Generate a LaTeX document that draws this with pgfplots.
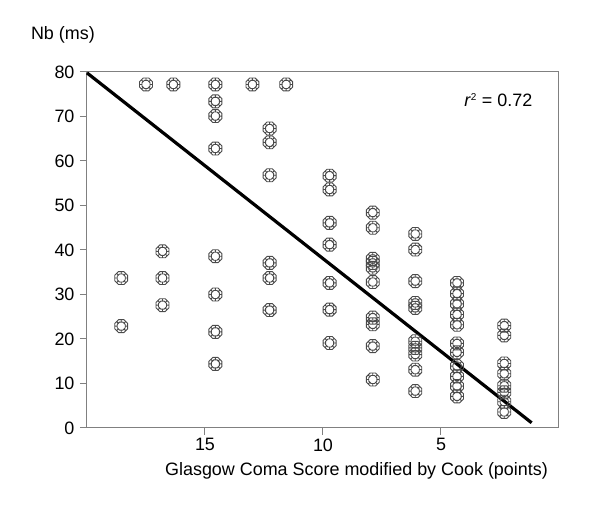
\documentclass[border=0pt]{standalone}
\usepackage{fontspec}
\setmainfont{Liberation Sans}
\usepackage{pgfplots}
\pgfplotsset{compat=1.18}

% double octagon ring, as in the original scatter
\pgfdeclareplotmark{ring}{%
  \pgfpathmoveto{\pgfpointpolar{22.5}{\pgfplotmarksize}}%
  \pgfpathlineto{\pgfpointpolar{67.5}{\pgfplotmarksize}}%
  \pgfpathlineto{\pgfpointpolar{112.5}{\pgfplotmarksize}}%
  \pgfpathlineto{\pgfpointpolar{157.5}{\pgfplotmarksize}}%
  \pgfpathlineto{\pgfpointpolar{202.5}{\pgfplotmarksize}}%
  \pgfpathlineto{\pgfpointpolar{247.5}{\pgfplotmarksize}}%
  \pgfpathlineto{\pgfpointpolar{292.5}{\pgfplotmarksize}}%
  \pgfpathlineto{\pgfpointpolar{337.5}{\pgfplotmarksize}}%
  \pgfpathclose
  \pgfpathmoveto{\pgfpointpolar{22.5}{0.62\pgfplotmarksize}}%
  \pgfpathlineto{\pgfpointpolar{67.5}{0.62\pgfplotmarksize}}%
  \pgfpathlineto{\pgfpointpolar{112.5}{0.62\pgfplotmarksize}}%
  \pgfpathlineto{\pgfpointpolar{157.5}{0.62\pgfplotmarksize}}%
  \pgfpathlineto{\pgfpointpolar{202.5}{0.62\pgfplotmarksize}}%
  \pgfpathlineto{\pgfpointpolar{247.5}{0.62\pgfplotmarksize}}%
  \pgfpathlineto{\pgfpointpolar{292.5}{0.62\pgfplotmarksize}}%
  \pgfpathlineto{\pgfpointpolar{337.5}{0.62\pgfplotmarksize}}%
  \pgfpathclose
  \pgfpathmoveto{\pgfpointpolar{0}{0.62\pgfplotmarksize}}\pgfpathlineto{\pgfpointpolar{0}{0.9\pgfplotmarksize}}%
  \pgfpathmoveto{\pgfpointpolar{45}{0.62\pgfplotmarksize}}\pgfpathlineto{\pgfpointpolar{45}{0.9\pgfplotmarksize}}%
  \pgfpathmoveto{\pgfpointpolar{90}{0.62\pgfplotmarksize}}\pgfpathlineto{\pgfpointpolar{90}{0.9\pgfplotmarksize}}%
  \pgfpathmoveto{\pgfpointpolar{135}{0.62\pgfplotmarksize}}\pgfpathlineto{\pgfpointpolar{135}{0.9\pgfplotmarksize}}%
  \pgfpathmoveto{\pgfpointpolar{180}{0.62\pgfplotmarksize}}\pgfpathlineto{\pgfpointpolar{180}{0.9\pgfplotmarksize}}%
  \pgfpathmoveto{\pgfpointpolar{225}{0.62\pgfplotmarksize}}\pgfpathlineto{\pgfpointpolar{225}{0.9\pgfplotmarksize}}%
  \pgfpathmoveto{\pgfpointpolar{270}{0.62\pgfplotmarksize}}\pgfpathlineto{\pgfpointpolar{270}{0.9\pgfplotmarksize}}%
  \pgfpathmoveto{\pgfpointpolar{315}{0.62\pgfplotmarksize}}\pgfpathlineto{\pgfpointpolar{315}{0.9\pgfplotmarksize}}%
  \pgfusepathqstroke
}

\pgfplotstableread{
x     y
18.55 33.7
18.55 22.9
17.50 77.2
16.80 39.7
16.80 33.7
16.80 27.6
16.34 77.2
14.56 77.2
14.56 73.4
14.56 70.1
14.56 62.8
14.56 38.6
14.56 30.0
14.56 21.6
14.56 14.4
12.99 77.2
12.26 67.3
12.26 64.2
12.26 56.8
12.26 37.1
12.26 33.7
12.26 26.5
11.56 77.2
9.72  56.7
9.72  53.6
9.72  46.1
9.72  41.2
9.72  32.6
9.72  26.6
9.72  19.1
7.89  48.4
7.89  45.0
7.89  38.0
7.89  37.1
7.89  36.0
7.89  32.8
7.89  24.8
7.89  23.3
7.89  18.4
7.89  10.9
6.09  43.6
6.09  40.1
6.09  33.0
6.09  28.1
6.09  27.0
6.09  19.5
6.09  18.0
6.09  16.5
6.09  13.1
6.09  8.3
4.32  32.6
4.32  30.2
4.32  27.9
4.32  25.5
4.32  23.2
4.32  19.0
4.32  17.0
4.32  13.9
4.32  11.6
4.32  9.4
4.32  7.1
2.32  23.0
2.32  20.8
2.32  14.5
2.32  12.2
2.32  9.5
2.32  8.0
2.32  5.9
2.32  3.6
}\gcsdata

\definecolor{axgray}{HTML}{808080}
\definecolor{ringgray}{HTML}{4A4A4A}

\begin{document}
\begin{tikzpicture}
\begin{axis}[
    name=ax,
    scale only axis, width=472bp, height=356bp,
    xmin=0, xmax=20, x dir=reverse,
    ymin=0, ymax=80,
    xtick={5,10,15}, ytick={0,10,...,80},
    tick align=outside, xtick pos=bottom, ytick pos=left,
    major tick length=7bp,
    axis line style={axgray, line width=1bp},
    every tick/.style={axgray, line width=1bp},
    ticklabel style={font=\fontsize{18}{20}\selectfont},
    yticklabel style={xshift=-2bp},
    /pgf/number format/assume math mode=true,
    xlabel={Glasgow Coma Score modified by Cook (points)},
    xlabel style={at={(axis description cs:0.571,0)}, anchor=center,
        yshift=-43bp, font=\fontsize{18}{20}\selectfont},
    clip=false,
]
\addplot[only marks, mark=ring, mark size=7bp,
    mark options={ringgray, line width=0.9bp}] table[x=x, y=y] {\gcsdata};
\addplot[black, line width=3.2bp] coordinates {(20,79.8) (1.16,1.17)};
\node[anchor=east, font=\fontsize{18}{20}\selectfont]
    at (axis description cs:0.951,0.921) {\textit{r}\textsuperscript{\fontsize{10}{10}\selectfont 2} = 0.72};
\node[font=\fontsize{18}{20}\selectfont]
    at (axis description cs:-0.051,1.104) {Nb (ms)};
\end{axis}
\path ([xshift=-87bp, yshift=-82bp]ax.south west) rectangle ([xshift=41bp, yshift=72bp]ax.north east);
\end{tikzpicture}
\end{document}
